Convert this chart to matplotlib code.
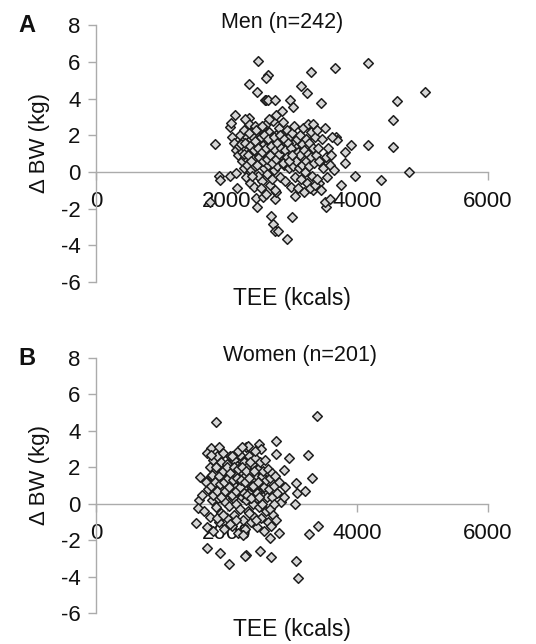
import matplotlib
matplotlib.use("Agg")
import matplotlib.pyplot as plt

plt.rcParams['font.family'] = ['Liberation Sans', 'DejaVu Sans']

# ---------------- data: Men (n=242) ----------------
men_tee = [
    # outliers / sparse points
    2482, 2635, 2610, 2345, 2467, 2584, 2610, 2635, 2737, 3298, 3655, 4164, 3145, 3232,
    2966, 3017, 3440, 5046, 4613, 4547, 4547, 4164, 4791, 4358, 3960, 3910, 3808, 3808,
    3757, 3680, 3690, 3553, 3528, 3502, 3578, 1820, 1753, 1886, 1900, 2049, 2141, 2166,
    2049, 2070, 2125, 2304, 2345, 2457, 2467, 2559, 2686, 2711, 2737, 2790, 2926, 3007,
    3043, 2737, 2750, 3323, 3420,
    # main cluster
    2080, 2120, 2150, 2170, 2190, 2210, 2230, 2240, 2250, 2260, 2270, 2280, 2290, 2300,
    2310, 2320, 2330, 2340, 2350, 2360, 2370, 2380, 2390, 2400, 2410, 2420, 2430, 2440,
    2450, 2460, 2470, 2480, 2490, 2500, 2510, 2520, 2530, 2540, 2550, 2560, 2570, 2580,
    2590, 2600, 2610, 2620, 2630, 2640, 2650, 2660, 2670, 2680, 2690, 2700, 2710, 2720,
    2730, 2740, 2750, 2760, 2770, 2780, 2790, 2800, 2810, 2820, 2830, 2840, 2850, 2860,
    2870, 2880, 2890, 2900, 2910, 2920, 2930, 2940, 2950, 2960, 2970, 2980, 2990, 3000,
    3010, 3020, 3030, 3040, 3050, 3060, 3070, 3080, 3090, 3100, 3110, 3120, 3130, 3140,
    3150, 3160, 3170, 3180, 3190, 3200, 3210, 3220, 3230, 3240, 3250, 3260, 3270, 3280,
    3290, 3300, 3310, 3320, 3330, 3340, 3350, 3360, 3370, 3380, 3390, 3400, 3420, 3440,
    3460, 3480, 3500, 3520, 3540, 3560, 3580, 3600, 3620, 3640,
    2220, 2260, 2290, 2330, 2360, 2380, 2400, 2420, 2440, 2460, 2480, 2500, 2520, 2540,
    2560, 2580, 2600, 2620, 2640, 2660, 2680, 2700, 2720, 2740, 2760, 2780, 2800, 2820,
    2840, 2860, 2880, 2900, 2920, 2940, 2960, 2980, 3000, 2350, 2450, 2550, 2650, 2750,
    2850, 2280, 2390, 2520, 2610, 2700,
]
men_dbw = [
    6.05, 5.28, 5.10, 4.78, 4.38, 3.92, 3.92, 3.92, 3.92, 5.47, 5.65, 5.96, 4.68, 4.29,
    3.92, 3.56, 3.74, 4.38, 3.89, 2.83, 1.38, 1.47, 0.00, -0.44, -0.22, 1.47, 1.10, 0.47,
    -0.71, 1.92, 1.75, 0.50, -1.89, -1.62, -1.49, 1.50, -1.62, -0.22, -0.45, -0.22, -0.07, -0.89,
    2.47, 2.65, 3.10, 2.83, 2.95, -1.43, -1.92, -1.34, -2.40, -2.83, -3.20, -3.20, -3.67, -2.47,
    -1.31, -1.49, -1.10, -0.98, -0.60,
    1.9, 1.6, 1.2, 0.9, 1.4, 2.0, 1.1, 0.6, 1.7, 0.2, 2.3, 1.3, 0.8, -0.3,
    1.9, 0.4, 1.5, 2.6, 1.0, -0.6, 0.1, 1.8, 2.2, 0.7, 1.3, -0.8, 2.5, 0.3,
    1.6, 1.1, 2.0, -0.2, 0.9, 1.4, 2.4, 0.5, 1.8, -0.5, 1.2, 2.1, 0.2, 1.5,
    0.8, 2.6, 1.0, -0.1, 1.7, 0.4, 2.2, 1.3, -0.7, 0.6, 1.9, 1.1, 2.8, 0.1,
    1.5, -1.0, 0.8, 2.0, 1.2, 0.3, 1.7, 2.4, 0.9, -0.3, 1.4, 0.6, 2.0, 1.1,
    2.7, 0.4, 1.6, -0.5, 1.0, 2.3, 0.7, 1.4, 0.2, 1.9, 1.2, -0.8, 0.8, 2.1,
    1.5, 0.3, 1.0, 2.5, -0.3, 1.3, 0.6, 1.8, -0.9, 1.1, 0.2, 2.0, 0.9, -0.4,
    1.5, 0.4, 2.4, -1.1, 1.2, 0.0, 1.8, 0.6, -0.6, 2.6, 1.0, 0.3, 1.6, -0.9,
    2.2, 0.8, -0.2, 1.3, 2.6, 0.5, -0.7, 1.9, 0.9, 2.3, -0.4, 1.3, 0.6, -1.0,
    1.8, 0.2, 2.4, 0.8, -0.3, 1.3, 0.4, 0.9, 1.9, 0.1,
    1.5, 1.0, 1.6, 0.9, 1.4, 0.6, 1.9, 1.2, 1.7, 0.4, 1.3, 0.8, 1.9, 1.1,
    0.6, 2.0, 1.3, 0.7, 1.8, 0.9, 1.4, 0.5, 1.9, 1.2, 0.7, 1.6, 1.0, 2.0,
    1.3, 0.5, 1.8, 1.2, 0.8, 1.6, 0.6, 1.3, 0.9, 2.1, 2.3, 2.5, 2.9, 3.1,
    3.3, 2.9, -0.2, -0.9, -1.2, -0.4,
]

# ---------------- data: Women (n=201) ----------------
women_tee = [
    # outliers / sparse points
    1834, 3384, 3247, 3308, 2956, 2875, 2752, 2752, 3058, 3084, 3196, 3048, 3400, 3262,
    3058, 3094, 2676, 2518, 2299, 2280, 2044, 1900, 1707, 1533, 2802, 2670, 1580, 1560,
    1590, 1767, 1880, 2300, 2330, 2500, 2530, 2900, 2830, 2880,
    # main cluster
    1620, 1650, 1680, 1700, 1720, 1740, 1750, 1760, 1780, 1790, 1800, 1810, 1820, 1830,
    1840, 1850, 1860, 1870, 1880, 1890, 1900, 1910, 1920, 1930, 1940, 1950, 1960, 1970,
    1980, 1990, 2000, 2010, 2020, 2030, 2040, 2050, 2060, 2070, 2080, 2090, 2100, 2110,
    2120, 2130, 2140, 2150, 2160, 2170, 2180, 2190, 2200, 2210, 2220, 2230, 2240, 2250,
    2260, 2270, 2280, 2290, 2300, 2310, 2320, 2330, 2340, 2350, 2360, 2370, 2380, 2390,
    2400, 2410, 2420, 2430, 2440, 2450, 2460, 2470, 2480, 2490, 2500, 2510, 2520, 2530,
    2540, 2550, 2560, 2570, 2580, 2590, 2600, 2610, 2620, 2630, 2640, 2650, 2660, 2670,
    2680, 2690, 2700, 2710, 2720, 2730, 2740, 2760, 2780, 2800,
    1760, 1780, 1800, 1820, 1840, 1860, 1880, 1900, 1920, 1940, 1960, 1980, 2000, 2020,
    2040, 2060, 2080, 2100, 2120, 2140, 2160, 2180, 2200, 2220, 2240, 2260, 2280, 2300,
    2320, 2340, 2360, 2380, 2400, 2420, 2440, 2460, 2480, 2500, 1850, 1950, 2050, 2150,
    2250, 2350, 2450, 1700, 1760, 2180, 2240, 2080,
]
women_dbw = [
    4.50, 4.80, 2.70, 1.43, 2.52, 1.85, 3.45, 2.73, 1.12, 0.60, 0.69, 0.00, -1.23, -1.68,
    -3.12, -4.10, -2.90, -2.57, -2.80, -2.85, -3.30, -2.72, -2.40, -1.08, -1.60, -1.90, 0.20, -0.25,
    1.48, 3.07, 3.12, 3.10, 3.15, 3.30, 3.00, 0.93, 0.10, 0.40,
    0.5, -0.4, 1.2, -1.3, 0.8, 2.0, -0.7, 1.5, 0.2, 2.4, -1.5, 1.0, 0.6, 1.8,
    -0.2, 2.6, 1.3, 0.3, -1.0, 1.9, 0.8, 2.3, -0.5, 1.4, 0.5, 2.8, -1.4, 1.1,
    0.1, 1.7, -0.8, 2.2, 0.9, 1.5, -0.1, 2.6, 0.6, 1.2, -1.2, 1.9, 0.3, 2.4,
    -0.6, 1.0, 1.6, 0.0, 2.1, -1.6, 0.7, 1.3, 2.7, -0.3, 1.8, 0.4, 1.1, -0.9,
    2.3, 0.9, 1.5, -1.4, 0.2, 2.0, 1.2, -0.4, 2.6, 0.6, 1.7, -1.0, 1.0, 2.2,
    0.0, 1.4, -0.7, 2.5, 0.8, 1.6, -1.3, 0.3, 1.9, -0.2, 1.1, 2.3, 0.5, -0.8,
    1.5, 0.0, 1.8, -1.5, 0.9, 2.4, -0.4, 1.3, 0.4, -1.0, 1.9, 0.8, -0.3, 1.4,
    -1.2, 0.4, 1.7, -0.6, 1.0, 0.0, 1.5, -0.9, 0.6, 1.2,
    1.0, 1.6, 0.5, 1.2, 2.0, 0.7, 1.5, 1.1, 0.4, 1.8, 1.2, 0.7, 2.0, 1.4,
    0.9, 1.7, 0.5, 1.3, 2.0, 0.7, 1.4, 1.9, 0.9, 1.3, 2.0, 0.6, 1.2, 1.8,
    0.5, 1.4, 2.3, 0.3, 1.0, 1.8, 2.9, 0.6, 1.2, 0.4, -0.8, -0.6, -1.1, -0.9,
    -1.7, -0.5, -0.9, 2.8, 2.7, 2.9, 3.1, 2.6,
]

panels = [
    ("A", "Men (n=242)", men_tee, men_dbw, [0.179, 0.562, 0.731, 0.399], 2850),
    ("B", "Women (n=201)", women_tee, women_dbw, [0.179, 0.048, 0.731, 0.396], 3120),
]

x_ticks = [0, 2000, 4000, 6000]
y_ticks = [-6, -4, -2, 0, 2, 4, 6, 8]

fig = plt.figure(figsize=(5.36, 6.44), dpi=100)
spine_col = "#ababab"
txt_col = "#111111"

for letter, title, xs, ys, rect, title_x in panels:
    ax = fig.add_axes(rect)
    ax.scatter(xs, ys, marker="D", s=24, facecolor="#d6d6d6",
               edgecolor="#1e1e1e", linewidths=1.1, zorder=3)
    ax.set_xlim(0, 6000)
    ax.set_ylim(-6, 8)
    ax.set_xticks(x_ticks)
    ax.set_yticks(y_ticks)
    ax.set_xticklabels([str(v) for v in x_ticks])
    ax.set_yticklabels([str(v) for v in y_ticks])
    for s in ("top", "right"):
        ax.spines[s].set_visible(False)
    ax.spines["bottom"].set_position(("data", 0))
    for s in ("left", "bottom"):
        ax.spines[s].set_color(spine_col)
        ax.spines[s].set_linewidth(1.0)
    ax.tick_params(axis="y", direction="out", length=6, width=1.0,
                   color=spine_col, labelsize=16, pad=5, labelcolor=txt_col)
    ax.tick_params(axis="x", direction="out", length=6, width=1.0,
                   color=spine_col, labelsize=16, pad=8, labelcolor=txt_col)
    ax.patch.set_alpha(0)
    ax.text(title_x, 8.15, title, ha="center", va="center", fontsize=15.5,
            color=txt_col)
    ax.text(3000, -6.9, "TEE (kcals)", ha="center", va="center", fontsize=16.5,
            color=txt_col, clip_on=False)
    ax.text(-0.145, 0.54, "\u0394 BW (kg)", transform=ax.transAxes, rotation=90,
            ha="center", va="center", fontsize=16, color=txt_col)
    ax.text(-0.176, 1.0, letter, transform=ax.transAxes, ha="center",
            va="center", fontsize=17, fontweight="bold", color=txt_col)

fig.savefig("out.png", dpi=100, facecolor="white")
